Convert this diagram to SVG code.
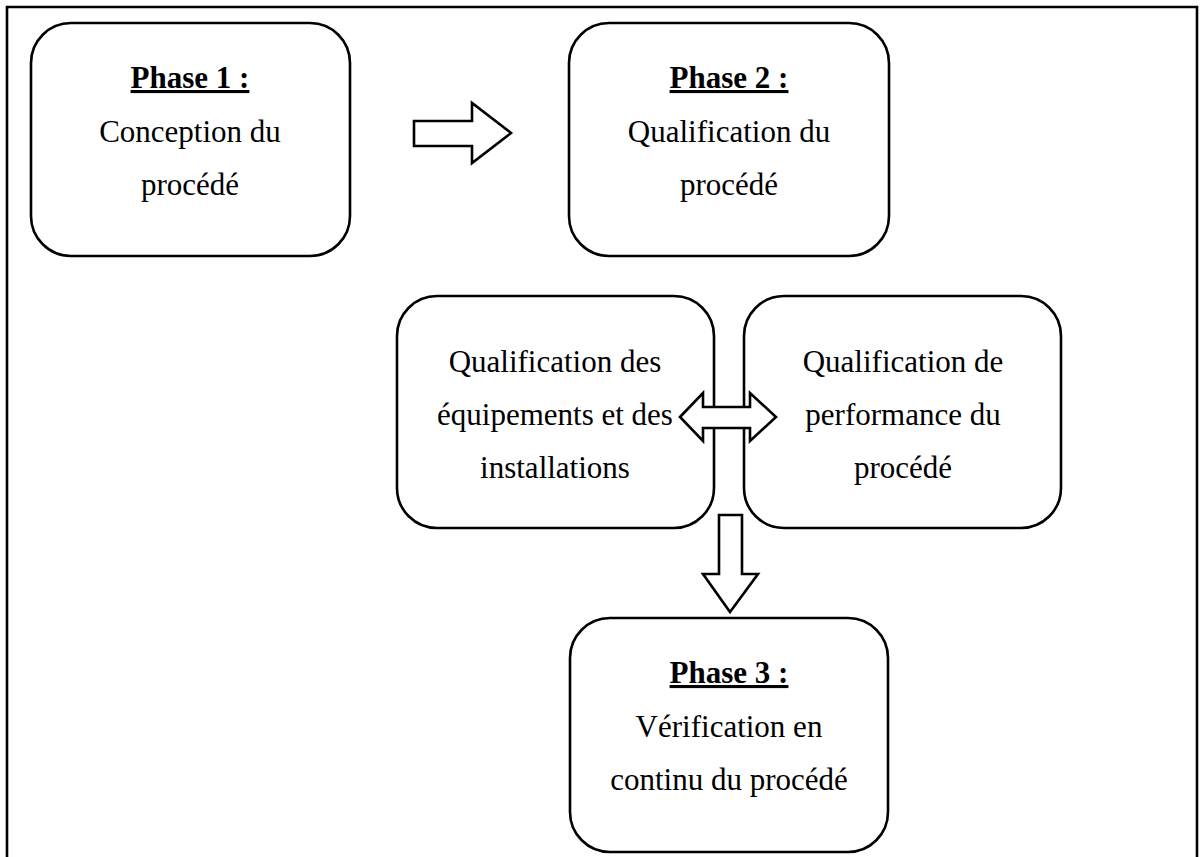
<svg xmlns="http://www.w3.org/2000/svg" width="1203" height="857" viewBox="0 0 1203 857">
<style>
.box{fill:#fff;stroke:#000;stroke-width:2.6}
.arr{fill:#fff;stroke:#000;stroke-width:2.6;stroke-linejoin:miter}
.t{font-family:"Liberation Serif","Times New Roman",serif;font-size:31px;fill:#000;text-anchor:middle}
.h{font-weight:bold;text-decoration:underline;text-decoration-thickness:2.5px}
</style>
<rect x="0" y="0" width="1203" height="857" fill="#fff"/>
<path d="M7,857 V7 H1197 V857" fill="none" stroke="#000" stroke-width="2.6"/>
<g id="phase1">
<rect class="box" x="31" y="23" width="319" height="233" rx="40"/>
<text class="t h" x="190" y="88">Phase 1 :</text>
<text class="t" x="190" y="142">Conception du</text>
<text class="t" x="190" y="195">procédé</text>
</g>
<g id="phase2">
<rect class="box" x="569" y="23" width="320" height="233" rx="40"/>
<text class="t h" x="729" y="88">Phase 2 :</text>
<text class="t" x="729" y="142">Qualification du</text>
<text class="t" x="729" y="195">procédé</text>
</g>
<g id="qual-equip">
<rect class="box" x="397" y="296" width="317" height="232" rx="40"/>
<text class="t" x="555" y="372">Qualification des</text>
<text class="t" x="555" y="425">équipements et des</text>
<text class="t" x="555" y="478">installations</text>
</g>
<g id="qual-perf">
<rect class="box" x="744" y="296" width="317" height="232" rx="40"/>
<text class="t" x="903" y="372">Qualification de</text>
<text class="t" x="903" y="425">performance du</text>
<text class="t" x="903" y="478">procédé</text>
</g>
<g id="phase3">
<rect class="box" x="570" y="618" width="318" height="234" rx="40"/>
<text class="t h" x="729" y="683">Phase 3 :</text>
<text class="t" x="729" y="737">Vérification en</text>
<text class="t" x="729" y="790">continu du procédé</text>
</g>
<g id="connectors">
<path class="arr" d="M414,121 H472 V103 L511,133 L472,163 V146 H414 Z"/>
<path class="arr" d="M680,417 L703,393 V407 H750 V393 L776,417 L750,441 V428 H703 V441 Z"/>
<path class="arr" d="M719,515 H742 V574 H758 L730,612 L703,574 H719 Z"/>
</g>
</svg>
